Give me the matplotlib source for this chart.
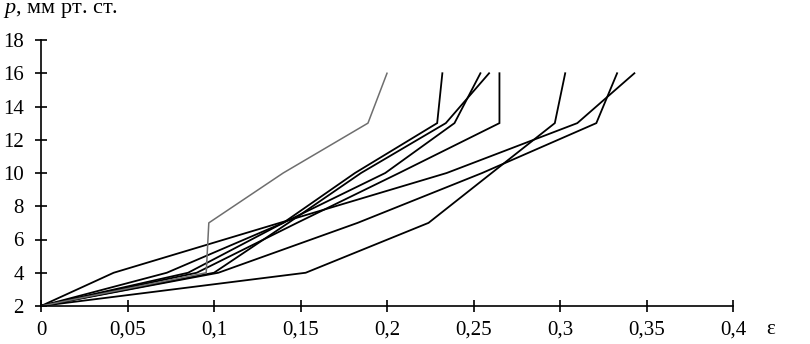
import matplotlib.pyplot as plt
from matplotlib.ticker import FuncFormatter, MultipleLocator

plt.rcParams['font.family'] = ['Liberation Serif', 'DejaVu Serif']
plt.rcParams['mathtext.fontset'] = 'custom'
plt.rcParams['mathtext.it'] = 'Liberation Serif:italic'
plt.rcParams['mathtext.rm'] = 'Liberation Serif'

# pressure levels, mm Hg
p = [2, 4, 7, 10, 13, 16]

# strain at each pressure level, one list per curve
eps_grey = [0, 0.0955, 0.097, 0.14, 0.189, 0.200]
eps_1 = [0, 0.042, 0.138, 0.2345, 0.310, 0.343]
eps_2 = [0, 0.153, 0.224, 0.2605, 0.297, 0.303]
eps_3 = [0, 0.0727, 0.14, 0.1815, 0.229, 0.232]
eps_4 = [0, 0.09, 0.148, 0.207, 0.265, 0.265]
eps_5 = [0, 0.085, 0.14, 0.199, 0.239, 0.254]
eps_6 = [0, 0.10, 0.143, 0.185, 0.234, 0.259]
eps_7 = [0, 0.1025, 0.183, 0.255, 0.321, 0.333]

black_curves = [eps_1, eps_2, eps_3, eps_4, eps_5, eps_6, eps_7]

fig = plt.figure(figsize=(8.1, 3.44), dpi=100, facecolor='w')
ax = fig.add_axes([41 / 810, 38 / 344, 692 / 810, 266 / 344])

for e in black_curves:
    ax.plot(e, p, color='black', lw=1.3, solid_joinstyle='miter')
ax.plot(eps_grey, p, color='#6e6e6e', lw=1.1)

ax.set_xlim(0, 0.4)
ax.set_ylim(2, 18)
ax.xaxis.set_major_locator(MultipleLocator(0.05))
ax.yaxis.set_major_locator(MultipleLocator(2))
ax.xaxis.set_major_formatter(FuncFormatter(lambda v, pos: f"{v:g}".replace('.', ',')))

for s in ('top', 'right'):
    ax.spines[s].set_visible(False)
for s in ('left', 'bottom'):
    ax.spines[s].set_linewidth(1.2)

ax.tick_params(direction='inout', length=9, width=1.2, labelsize=15, colors='black')
ax.tick_params(axis='y', pad=8)
ax.tick_params(axis='x', pad=6)

fig.text(766 / 810, 5 / 344, 'ε', fontsize=15, ha='left', va='bottom')
fig.text(3 / 810, 1 - 10 / 344, '$p$, мм рт. ст.', fontsize=16, ha='left', va='center')

fig.savefig('out.png', dpi=100)
